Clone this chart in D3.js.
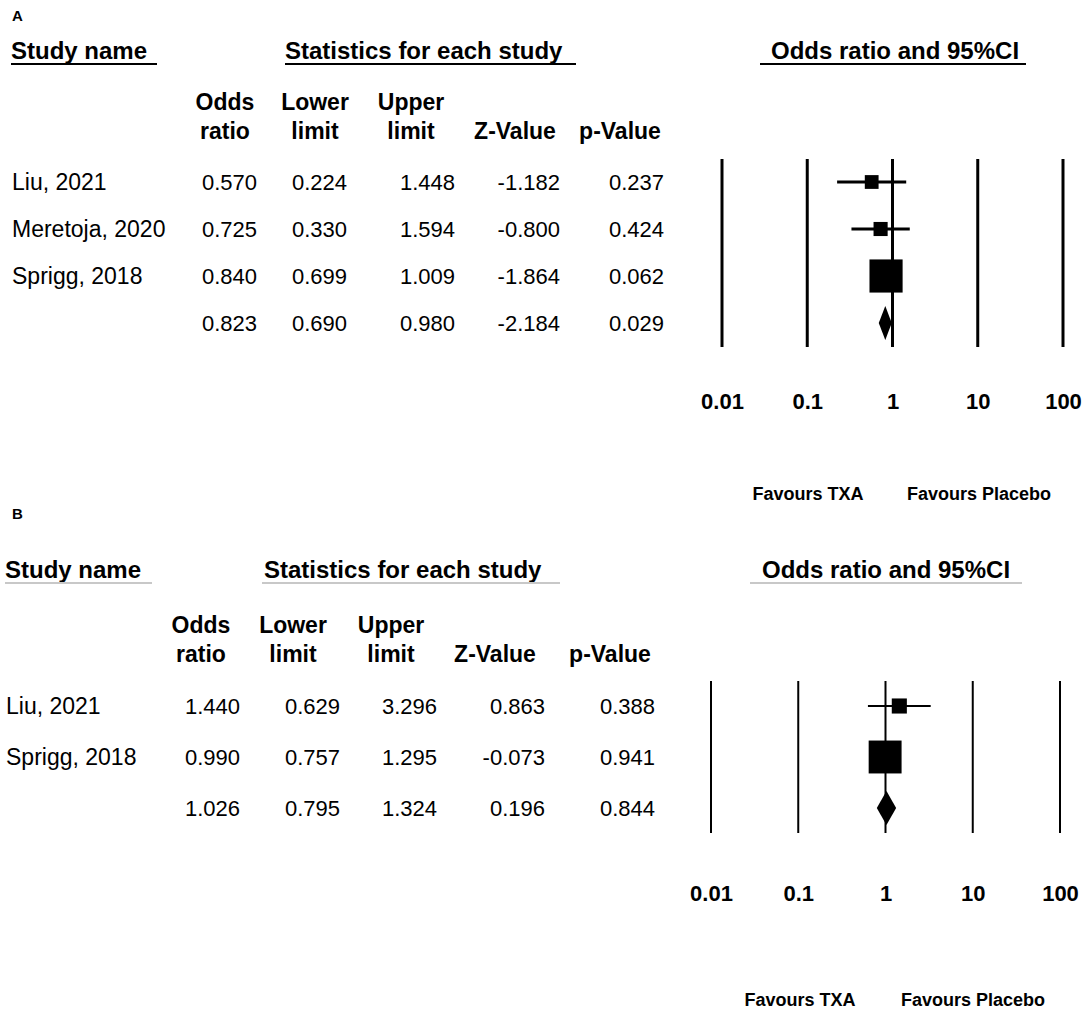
<!DOCTYPE html>
<html>
<head>
<meta charset="utf-8">
<script src="https://cdn.jsdelivr.net/npm/d3@7"></script>
<style>
  body { margin: 0; background: #fff; }
  svg text { font-family: "Liberation Sans", Arial, sans-serif; fill: #000; }
</style>
</head>
<body>
<div id="chart"></div>
<script>
// panel A
const studiesA = ["Liu, 2021", "Meretoja, 2020", "Sprigg, 2018"];
const oddsA = [0.570, 0.725, 0.840];
const lowerA = [0.224, 0.330, 0.699];
const upperA = [1.448, 1.594, 1.009];
const zA = [-1.182, -0.800, -1.864];
const pA = [0.237, 0.424, 0.062];
const weightA = [3.5, 5.0, 91.5];
const summaryA = [0.823, 0.690, 0.980, -2.184, 0.029];

// panel B
const studiesB = ["Liu, 2021", "Sprigg, 2018"];
const oddsB = [1.440, 0.990];
const lowerB = [0.629, 0.757];
const upperB = [3.296, 1.295];
const zB = [0.863, -0.073];
const pB = [0.388, 0.941];
const weightB = [9.5, 90.5];
const summaryB = [1.026, 0.795, 1.324, 0.196, 0.844];

const columnHeads = [["Odds", "ratio"], ["Lower", "limit"], ["Upper", "limit"], ["", "Z-Value"], ["", "p-Value"]];
const tickValues = [0.01, 0.1, 1, 10, 100];
const tickLabels = ["0.01", "0.1", "1", "10", "100"];
const favourLabels = ["Favours TXA", "Favours Placebo"];

const svg = d3.select("#chart").append("svg")
    .attr("width", 1084)
    .attr("height", 1010);

// plain hyphen for negatives, like the original table
const fmt = d3.formatLocale({decimal: ".", thousands: ",", grouping: [3], currency: ["", ""], minus: "-"}).format(".3f");
const boxSize = d3.scaleLinear().domain([0, 100]).range([13, 35]);

function drawPanel(cfg) {
    const g = svg.append("g");
    const n = cfg.studies.length;

    const x = d3.scaleLog().domain([0.01, 100]).range(cfg.xRange);
    const y = d3.scaleLinear().domain([0, n]).range(cfg.yRange);

    // panel letter
    g.append("text")
        .attr("x", 12).attr("y", cfg.letterY)
        .style("font-size", "15px").style("font-weight", "bold")
        .text(cfg.letter);

    // section headers with underline
    const heads = [
        {text: "Study name", x: cfg.nameX, x1: cfg.nameX, x2: cfg.nameLine},
        {text: "Statistics for each study", x: cfg.statX, x1: cfg.statLine[0], x2: cfg.statLine[1]},
        {text: "Odds ratio and 95%CI", x: cfg.orX, x1: cfg.orLine[0], x2: cfg.orLine[1]}
    ];
    heads.forEach(h => {
        g.append("text")
            .attr("x", h.x).attr("y", cfg.headY)
            .style("font-size", "24px").style("font-weight", "bold")
            .text(h.text);
        g.append("line")
            .attr("x1", h.x1).attr("x2", h.x2)
            .attr("y1", cfg.headY + 5).attr("y2", cfg.headY + 5)
            .style("stroke", cfg.ruleColor).style("stroke-width", 2);
    });

    // column headers
    columnHeads.forEach((lines, c) => {
        lines.forEach((t, k) => {
            g.append("text")
                .attr("x", cfg.headCenters[c])
                .attr("y", cfg.colHeadY + k * 29)
                .attr("text-anchor", "middle")
                .style("font-size", "23px").style("font-weight", "bold")
                .text(t);
        });
    });

    // table rows
    const rows = cfg.studies.map((s, i) => ({
        name: s,
        vals: [cfg.odds[i], cfg.lower[i], cfg.upper[i], cfg.z[i], cfg.p[i]]
    }));
    rows.push({name: "", vals: cfg.summary});

    rows.forEach((r, i) => {
        g.append("text")
            .attr("x", cfg.nameX + 1).attr("y", y(i))
            .attr("dy", "0.36em")
            .style("font-size", "23px")
            .text(r.name);
        r.vals.forEach((v, c) => {
            g.append("text")
                .attr("x", cfg.valueRight[c]).attr("y", y(i))
                .attr("dy", "0.36em")
                .attr("text-anchor", "end")
                .style("font-size", "22px")
                .text(fmt(v));
        });
    });

    // vertical reference lines
    g.selectAll(".ref")
        .data(tickValues)
        .enter().append("line")
        .attr("x1", d => x(d)).attr("x2", d => x(d))
        .attr("y1", cfg.lineTop).attr("y2", cfg.lineBottom)
        .style("stroke", "#000").style("stroke-width", cfg.lineWidth);

    // confidence intervals
    g.selectAll(".ci")
        .data(d3.range(n))
        .enter().append("line")
        .attr("x1", i => x(cfg.lower[i])).attr("x2", i => x(cfg.upper[i]))
        .attr("y1", i => y(i)).attr("y2", i => y(i))
        .style("stroke", "#000").style("stroke-width", cfg.lineWidth);

    // study boxes
    g.selectAll(".box")
        .data(d3.range(n))
        .enter().append("rect")
        .attr("x", i => x(cfg.odds[i]) - boxSize(cfg.weight[i]) / 2)
        .attr("y", i => y(i) - boxSize(cfg.weight[i]) / 2)
        .attr("width", i => boxSize(cfg.weight[i]))
        .attr("height", i => boxSize(cfg.weight[i]))
        .style("fill", "#000");

    // summary diamond
    const ys = y(n), hd = 17;
    g.append("path")
        .attr("d", `M${x(cfg.summary[1])},${ys} L${x(cfg.summary[0])},${ys - hd} L${x(cfg.summary[2])},${ys} L${x(cfg.summary[0])},${ys + hd} Z`)
        .style("fill", "#000");

    // tick labels
    const axis = g.append("g")
        .attr("transform", `translate(0,${cfg.tickY})`)
        .call(d3.axisBottom(x).tickValues(tickValues).tickSize(0).tickFormat((d, i) => tickLabels[i]));
    axis.select(".domain").remove();
    axis.selectAll("text")
        .attr("y", 0).attr("dy", "0.36em")
        .style("font-family", "'Liberation Sans', Arial, sans-serif")
        .style("font-size", "22px").style("font-weight", "bold").style("fill", "#000");

    // favours labels
    favourLabels.forEach((t, k) => {
        g.append("text")
            .attr("x", cfg.favourX[k]).attr("y", cfg.favourY)
            .attr("dy", "0.36em")
            .attr("text-anchor", "middle")
            .style("font-size", "18px").style("font-weight", "bold")
            .text(t);
    });
}

drawPanel({
    letter: "A", letterY: 21,
    studies: studiesA, odds: oddsA, lower: lowerA, upper: upperA, z: zA, p: pA,
    weight: weightA, summary: summaryA,
    nameX: 11, nameLine: 157, statX: 285, statLine: [285, 576], orX: 771, orLine: [760, 1026],
    headY: 59, ruleColor: "#000",
    colHeadY: 110, headCenters: [225, 315, 411, 515, 620],
    valueRight: [257, 347, 455, 560, 664],
    xRange: [722, 1063], yRange: [182, 323],
    lineTop: 159, lineBottom: 347, lineWidth: 3,
    tickY: 401, favourX: [808, 979], favourY: 494
});

drawPanel({
    letter: "B", letterY: 519,
    studies: studiesB, odds: oddsB, lower: lowerB, upper: upperB, z: zB, p: pB,
    weight: weightB, summary: summaryB,
    nameX: 5, nameLine: 152, statX: 264, statLine: [262, 560], orX: 762, orLine: [750, 1022],
    headY: 578, ruleColor: "#c8c8c8",
    colHeadY: 633, headCenters: [201, 293, 391, 495, 610],
    valueRight: [240, 340, 437, 545, 655],
    xRange: [711, 1060], yRange: [706, 808],
    lineTop: 681, lineBottom: 833, lineWidth: 2,
    tickY: 893, favourX: [800, 973], favourY: 1000
});
</script>
</body>
</html>
